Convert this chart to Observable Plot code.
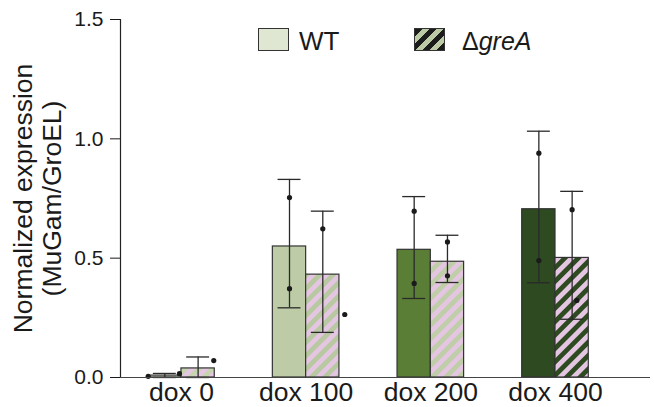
<!DOCTYPE html>
<html><head><meta charset="utf-8">
<script src="https://cdn.jsdelivr.net/npm/d3@7"></script>
<script src="https://cdn.jsdelivr.net/npm/@observablehq/plot@0.6"></script>
<style>
body{margin:0;background:#fff;font-family:"Liberation Sans",Arial,Helvetica,sans-serif;}
#wrap{position:relative;width:654px;height:407px;}
.sw{position:absolute;top:28px;width:31px;height:23px;border:1.3px solid #333;box-sizing:border-box;}
.lt{position:absolute;top:29px;font-size:25px;line-height:25px;color:#1a1a1a;white-space:nowrap;}
</style></head><body>
<div id="wrap">
<div id="chart"></div>
<div class="sw" style="left:258px;background:#dfe7d2;"></div>
<div class="lt" style="left:299px;font-size:26px;">WT</div>
<div class="sw" style="left:414px;background:repeating-linear-gradient(135deg,#1c1c1c 0 5px,#bccba5 5px 10px);"></div>
<div class="lt" style="left:462px;">Δ<i>greA</i></div>
</div>
<script>
// ---- data ----
const doses = ["dox 0", "dox 100", "dox 200", "dox 400"];
const genotypes = ["WT", "ΔgreA"];
const yTicks = [0, 0.5, 1.0, 1.5];
const yTitle = "Normalized expression\n(MuGam/GroEL)";

const wtMean = [0.008, 0.549, 0.535, 0.705];
const wtLow  = [0.0,   0.292, 0.331, 0.397];
const wtHigh = [0.017, 0.830, 0.758, 1.032];
const wtPoints = [[0.005, 0.016], [0.754, 0.372], [0.697, 0.394], [0.940, 0.490]];
const wtJitter = [[-0.5, 0.44], [0, 0], [0, 0], [0, 0]];

const greaMean = [0.038, 0.431, 0.485, 0.501];
const greaLow  = [0.0,   0.189, 0.398, 0.244];
const greaHigh = [0.086, 0.697, 0.596, 0.780];
const greaPoints = [[0.071], [0.623, 0.264], [0.568, 0.426], [0.703, 0.323]];
const greaJitter = [[0.47], [0, 0.66], [0, 0], [0, 0.14]];

const wtColors = ["#dfe7d2", "#bdcca6", "#5a7e35", "#2d4a21"];
const stripeColors = ["#c6d4b0", "#b8c8a0", "#bfcea8", "#2d4a21"];
const pink = "#e4c6e2";

// ---- build tables ----
const barW = 0.267;
const bars = [];
const points = [];
doses.forEach((d, i) => {
  bars.push({dose: d, g: 0, x1: i - barW, x2: i, xc: i - barW / 2, mean: wtMean[i], lo: wtLow[i], hi: wtHigh[i], fill: wtColors[i]});
  bars.push({dose: d, g: 1, x1: i, x2: i + barW, xc: i + barW / 2, mean: greaMean[i], lo: greaLow[i], hi: greaHigh[i], fill: `url(#hatch${i})`});
  wtPoints[i].forEach((v, k) => points.push({x: i - barW / 2 + wtJitter[i][k] * barW, v}));
  greaPoints[i].forEach((v, k) => points.push({x: i + barW / 2 + greaJitter[i][k] * barW, v}));
});
const cap = 0.092;
const xDomain = [-0.489, 3.762];

const svg = Plot.plot({
  width: 654, height: 407,
  marginLeft: 120, marginRight: 4, marginTop: 19, marginBottom: 30,
  x: {type: "linear", domain: xDomain, axis: null},
  y: {domain: [0, 1.5], axis: null},
  color: {type: "identity"},
  style: {fontFamily: "'Liberation Sans', Arial, Helvetica, sans-serif", color: "#1a1a1a", background: "transparent", overflow: "visible"},
  marks: [
    Plot.rect(bars, {x1: "x1", x2: "x2", y1: () => 0, y2: "mean", fill: "fill", stroke: "#333", strokeWidth: 1.2}),
    Plot.ruleX(bars, {x: "xc", y1: "lo", y2: "hi", stroke: "#2a2a2a", strokeWidth: 1.3}),
    Plot.ruleY(bars, {y: "hi", x1: d => d.xc - cap, x2: d => d.xc + cap, stroke: "#2a2a2a", strokeWidth: 1.3}),
    Plot.ruleY(bars, {y: "lo", x1: d => d.xc - cap, x2: d => d.xc + cap, stroke: "#2a2a2a", strokeWidth: 1.3}),
    Plot.dot(points, {x: "x", y: "v", r: 2.6, fill: "#1a1a1a", stroke: "none"}),
    Plot.ruleY([0], {stroke: "#444", strokeWidth: 1.2}),
    Plot.ruleX([xDomain[0]], {stroke: "#222", strokeWidth: 1.2}),
    Plot.axisY({ticks: yTicks, tickFormat: d3.format(".1f"), tickSize: 10, tickPadding: 7, fontSize: 21, label: null}),
    Plot.axisX({ticks: [0, 1, 2, 3], tickFormat: i => doses[i], tickSize: 0, tickPadding: 5, fontSize: 26.5, label: null}),
    Plot.text([yTitle], {text: d => d, frameAnchor: "left", textAnchor: "middle", lineAnchor: "middle", rotate: -90, dx: -83, fontSize: 26.5, lineHeight: 1.1, fill: "#1a1a1a"})
  ]
});

// diagonal hatch patterns for the ΔgreA bars
const defs = d3.select(svg).insert("defs", ":first-child");
stripeColors.forEach((c, i) => {
  const p = defs.append("pattern").attr("id", `hatch${i}`).attr("patternUnits", "userSpaceOnUse")
    .attr("width", 9.5).attr("height", 9.5).attr("patternTransform", "rotate(45)");
  p.append("rect").attr("width", 9.5).attr("height", 9.5).attr("fill", pink);
  p.append("rect").attr("width", 4.75).attr("height", 9.5).attr("fill", c);
});

document.getElementById("chart").appendChild(svg);
</script>
</body></html>
